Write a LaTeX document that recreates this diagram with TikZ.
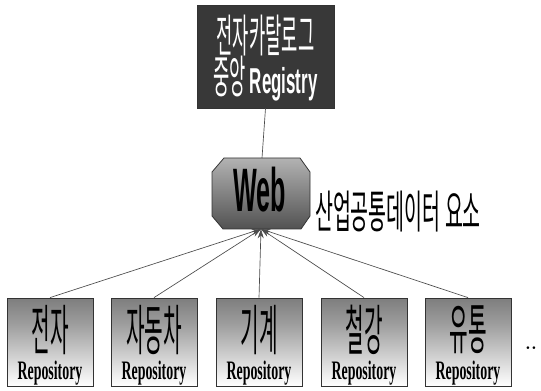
\documentclass[tikz,border=0pt]{standalone}
\usepackage{fontspec}
\usepackage{tikz}
\usetikzlibrary{arrows.meta}
\newfontfamily\kotitle[FakeStretch=0.39]{Noto Sans CJK KR}
\newfontfamily\kolabel[FakeStretch=0.43]{Noto Sans CJK KR}
\newfontfamily\korepo[FakeStretch=0.37]{Noto Sans CJK KR}
\newfontfamily\websans[FakeStretch=0.41]{Liberation Sans}
\newfontfamily\regsans[FakeStretch=0.47]{Liberation Sans}
\newfontfamily\repserif[FakeStretch=0.52]{Liberation Serif}
\pgfdeclareverticalshading{repofade}{100bp}{color(0bp)=(white); color(25bp)=(white); color(60bp)=(black!38); color(100bp)=(black!72)}

\begin{document}
\begin{tikzpicture}[x=0.75pt,y=0.75pt,yscale=-1,xscale=1,
  repobox/.style={draw=black!80,line width=0.6pt,shading=repofade,minimum width=64.5pt,minimum height=66pt,inner sep=0pt},
  kotext/.style={inner sep=0.75pt,font=\korepo\fontsize{41}{41}\selectfont},
  reptext/.style={inner sep=0.75pt,font=\repserif\bfseries\fontsize{20}{20}\selectfont},
  link/.style={draw=black!70,line width=0.5pt,-{Stealth[length=7pt,width=4.5pt]}}]
\useasboundingbox (0,0) rectangle (541,391);

%Shape: Rectangle [id:registry]
\node [draw=black!80,fill=black!78,minimum width=102.75pt,minimum height=77.25pt,inner sep=0pt] (registry) at (265.5,56.5) {};
% Text Node
\node [text=white,align=center,inner sep=0.75pt,font=\kotitle\fontsize{34}{31}\selectfont] (regtext) at (265.5,58) {전자카탈로그\\중앙 {\regsans\bfseries\fontsize{27}{31}\selectfont Registry}};

%Shape: Polygon [id:webshape]
\draw [draw=black!80,line width=0.6pt,top color=black!30,bottom color=black!68] (224,158) -- (300,158) -- (310,172) -- (310,216) -- (301,229) -- (223,229) -- (212,216) -- (212,172) -- cycle ;
\coordinate (webtop) at (262,158);
\coordinate (webtip) at (261,229);
% Text Node
\node [inner sep=0.75pt,font=\websans\bfseries\fontsize{46}{46}\selectfont] (web) at (260,190) {Web};
% Text Node
\node [inner sep=0.75pt,font=\kolabel\fontsize{34}{34}\selectfont] (common) at (398,212) {산업공통데이터 요소};

%Shape: Rectangle [id:rep1..rep5]
\node [repobox] (rep1) at (50,342) {};
\node [repobox] (rep2) at (154,342) {};
\node [repobox] (rep3) at (259,342) {};
\node [repobox] (rep4) at (364,342) {};
\node [repobox] (rep5) at (468,342) {};

% Text Node
\node [kotext] (ko1) at (50,330) {전자};
\node [kotext] (ko2) at (154,330) {자동차};
\node [kotext] (ko3) at (259,330) {기계};
\node [kotext] (ko4) at (364,330) {철강};
\node [kotext] (ko5) at (468,330) {유통};
% Text Node
\node [reptext] (r1) at (50,373) {Repository};
\node [reptext] (r2) at (154,373) {Repository};
\node [reptext] (r3) at (259,373) {Repository};
\node [reptext] (r4) at (364,373) {Repository};
\node [reptext] (r5) at (468,373) {Repository};
% Text Node
\node [inner sep=0.75pt,font=\bfseries\fontsize{14}{14}\selectfont] (more) at (531,348) {..};

%Straight Lines
\draw [draw=black!70,line width=0.5pt] (registry.south) -- (webtop);
\draw [link] (rep1.north) -- (webtip);
\draw [link] (rep2.north) -- (webtip);
\draw [link] (rep3.north) -- (webtip);
\draw [link] (rep4.north) -- (webtip);
\draw [link] (rep5.north) -- (webtip);

\end{tikzpicture}
\end{document}
